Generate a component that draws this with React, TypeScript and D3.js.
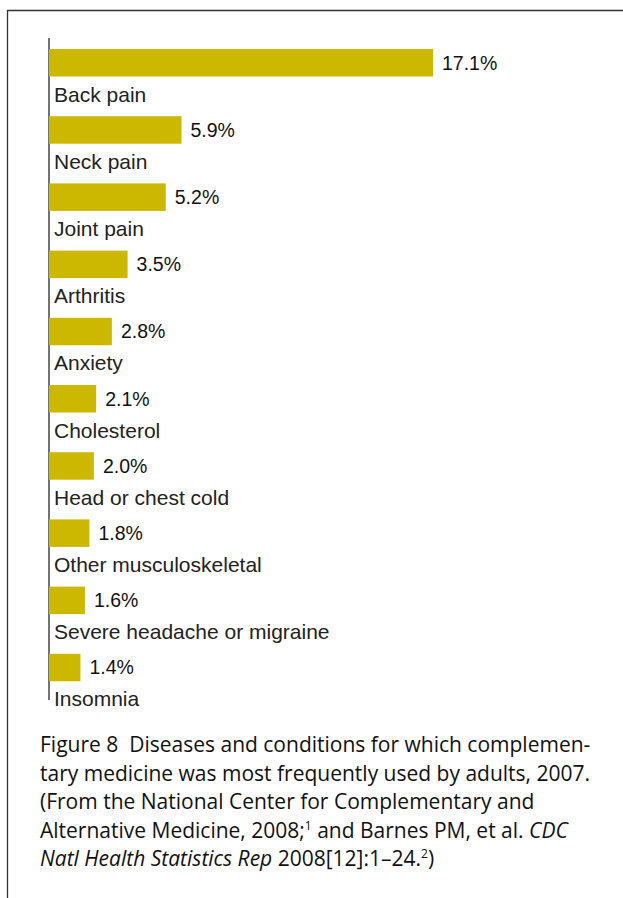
import React from 'react';
import * as d3 from 'd3';

// Data
const conditions = [
  'Back pain',
  'Neck pain',
  'Joint pain',
  'Arthritis',
  'Anxiety',
  'Cholesterol',
  'Head or chest cold',
  'Other musculoskeletal',
  'Severe headache or migraine',
  'Insomnia',
];
const percents = [17.1, 5.9, 5.2, 3.5, 2.8, 2.1, 2.0, 1.8, 1.6, 1.4];

const W = 623;
const H = 898;
const barColor = '#cdb800';
const ink = '#222';

const App: React.FC = () => {
  const axisX = 49;
  const x = d3.scaleLinear().domain([0, 17.1]).range([axisX, 433]);
  const y = d3.scaleBand<string>().domain(conditions).range([49, 49 + 67.2 * conditions.length]).paddingInner(0);
  const barH = 27.5;

  const capFont = '"Open Sans", Lato, sans-serif';
  const capSize = 21;
  const capX = 40;
  const capY0 = 752;
  const lh = 28.6;

  return (
    <div style={{ position: 'absolute', left: 0, top: 0 }}>
      <svg width={W} height={H} style={{ display: 'block' }}>
        <rect width={W} height={H} fill="#fff" />
        {/* page frame */}
        <path d={`M7.5,${H} V10.5 H${W}`} fill="none" stroke="#333" strokeWidth={1.3} />

        {/* axis line */}
        <line x1={axisX} x2={axisX} y1={38} y2={700} stroke="#444" strokeWidth={1.5} />

        {conditions.map((c, i) => {
          const top = y(c)!;
          return (
            <g key={c}>
              <rect x={x(0)} y={top} width={x(percents[i]) - x(0)} height={barH} fill={barColor} />
              <text
                x={x(percents[i]) + 9}
                y={top + barH / 2 + 6.8}
                fontFamily="'Liberation Sans', Arial, sans-serif"
                fontSize={19.5}
                fill="#111"
              >
                {d3.format('.1f')(percents[i])}%
              </text>
              <text
                x={axisX + 5}
                y={top + 52.5}
                fontFamily="'Liberation Sans', Arial, sans-serif"
                fontSize={21}
                fill={ink}
              >
                {c}
              </text>
            </g>
          );
        })}

        {/* caption */}
        <g fontFamily={capFont} fontSize={capSize} fill="#111">
          <text x={capX} y={capY0}>Figure 8{'\u00a0\u00a0'}Diseases and conditions for which complemen-</text>
          <text x={capX} y={capY0 + lh}>tary medicine was most frequently used by adults, 2007.</text>
          <text x={capX} y={capY0 + lh * 2}>(From the National Center for Complementary and</text>
          <text x={capX} y={capY0 + lh * 3}>
            Alternative Medicine, 2008;<tspan fontSize={12} dy={-8}>1</tspan>
            <tspan dy={8}> and Barnes PM, et al. </tspan>
            <tspan fontStyle="italic">CDC</tspan>
          </text>
          <text x={capX} y={capY0 + lh * 4}>
            <tspan fontStyle="italic">Natl Health Statistics Rep</tspan> 2008[12]:1–24.
            <tspan fontSize={12} dy={-8}>2</tspan>
            <tspan dy={8}>)</tspan>
          </text>
        </g>
      </svg>
    </div>
  );
};

export default App;
